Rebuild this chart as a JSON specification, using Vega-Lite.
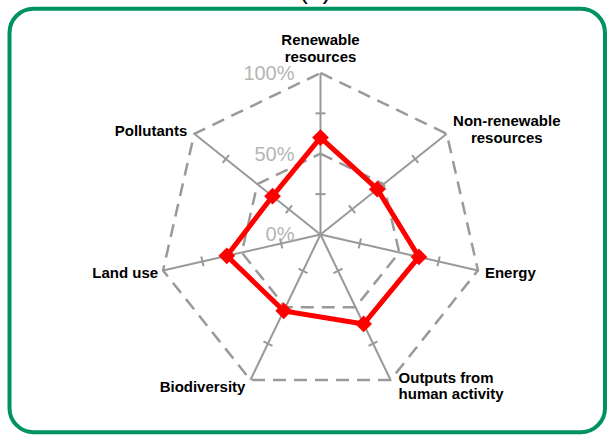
{
  "$schema": "https://vega.github.io/schema/vega-lite/v6.json",
  "width": 595.5,
  "height": 423.5,
  "padding": {"left": 9.5, "top": 8.7, "right": 2, "bottom": 3},
  "autosize": "none",
  "background": "white",
  "config": {
    "view": {"stroke": "#00935f", "strokeWidth": 4, "cornerRadius": 24},
    "text": {"font": "Liberation Sans"}
  },
  "title": {"text": "(b)", "font": "Liberation Sans", "fontSize": 26, "fontWeight": "normal", "color": "black", "baseline": "alphabetic", "offset": -16, "dx": 8, "anchor": "middle"},
  "datasets": {
    "axes": [
      {"idx": 0, "axis": "Renewable resources", "label": ["Renewable", "resources"], "value": 0.60},
      {"idx": 1, "axis": "Non-renewable resources", "label": ["Non-renewable", "resources"], "value": 0.45},
      {"idx": 2, "axis": "Energy", "label": ["Energy"], "value": 0.625},
      {"idx": 3, "axis": "Outputs from human activity", "label": ["Outputs from", "human activity"], "value": 0.615},
      {"idx": 4, "axis": "Biodiversity", "label": ["Biodiversity"], "value": 0.525},
      {"idx": 5, "axis": "Land use", "label": ["Land use"], "value": 0.595},
      {"idx": 6, "axis": "Pollutants", "label": ["Pollutants"], "value": 0.38}
    ],
    "levels": [
      {"pct": 0, "label": "0%"},
      {"pct": 0.5, "label": "50%"},
      {"pct": 1, "label": "100%"}
    ]
  },
  "data": {"name": "axes"},
  "layer": [
    {
      "transform": [
        {"calculate": "PI/2 - datum.idx*2*PI/7", "as": "ang"},
        {"calculate": "cos(datum.ang)", "as": "cx"},
        {"calculate": "sin(datum.ang)", "as": "cy"},
        {"calculate": "0", "as": "zero"}
      ],
      "mark": {"type": "rule", "color": "#999999", "strokeWidth": 2},
      "encoding": {
        "x": {"field": "zero", "type": "quantitative", "scale": {"domain": [-1.9257, 1.7616], "nice": false, "zero": false}, "axis": null},
        "y": {"field": "zero", "type": "quantitative", "scale": {"domain": [-1.2242, 1.3981], "nice": false, "zero": false}, "axis": null},
        "x2": {"field": "cx"},
        "y2": {"field": "cy"}
      }
    },
    {
      "transform": [
        {"calculate": "PI/2 - datum.idx*2*PI/7", "as": "ang"},
        {"calculate": "0.5*cos(datum.ang)", "as": "rx"},
        {"calculate": "0.5*sin(datum.ang)", "as": "ry"}
      ],
      "mark": {"type": "line", "color": "#9a9a9a", "strokeWidth": 2.5, "strokeDash": [13, 8], "interpolate": "linear-closed"},
      "encoding": {
        "x": {"field": "rx", "type": "quantitative", "scale": {"domain": [-1.9257, 1.7616], "nice": false, "zero": false}, "axis": null},
        "y": {"field": "ry", "type": "quantitative", "scale": {"domain": [-1.2242, 1.3981], "nice": false, "zero": false}, "axis": null},
        "order": {"field": "idx"}
      }
    },
    {
      "transform": [
        {"calculate": "PI/2 - datum.idx*2*PI/7", "as": "ang"},
        {"calculate": "cos(datum.ang)", "as": "rx"},
        {"calculate": "sin(datum.ang)", "as": "ry"}
      ],
      "mark": {"type": "line", "color": "#9a9a9a", "strokeWidth": 2.5, "strokeDash": [13, 8], "interpolate": "linear-closed"},
      "encoding": {
        "x": {"field": "rx", "type": "quantitative", "scale": {"domain": [-1.9257, 1.7616], "nice": false, "zero": false}, "axis": null},
        "y": {"field": "ry", "type": "quantitative", "scale": {"domain": [-1.2242, 1.3981], "nice": false, "zero": false}, "axis": null},
        "order": {"field": "idx"}
      }
    },
    {
      "transform": [
        {"calculate": "PI/2 - datum.idx*2*PI/7", "as": "ang"},
        {"calculate": "cos(datum.ang)", "as": "cx"},
        {"calculate": "sin(datum.ang)", "as": "cy"},
        {"calculate": "0.25", "as": "t25"},
        {"calculate": "0.75", "as": "t75"},
        {"fold": ["t25", "t75"], "as": ["lvl", "t"]},
        {"calculate": "datum.t*datum.cx + 0.031*datum.cy", "as": "x1"},
        {"calculate": "datum.t*datum.cy - 0.031*datum.cx", "as": "y1"},
        {"calculate": "datum.t*datum.cx - 0.031*datum.cy", "as": "x2"},
        {"calculate": "datum.t*datum.cy + 0.031*datum.cx", "as": "y2"}
      ],
      "mark": {"type": "rule", "color": "#999999", "strokeWidth": 2},
      "encoding": {
        "x": {"field": "x1", "type": "quantitative", "scale": {"domain": [-1.9257, 1.7616], "nice": false, "zero": false}, "axis": null},
        "y": {"field": "y1", "type": "quantitative", "scale": {"domain": [-1.2242, 1.3981], "nice": false, "zero": false}, "axis": null},
        "x2": {"field": "x2"},
        "y2": {"field": "y2"}
      }
    },
    {
      "data": {"name": "levels"},
      "mark": {"type": "text", "align": "right", "baseline": "middle", "fontSize": 20, "color": "#b5b5b5", "dx": -26, "dy": 1, "font": "Liberation Sans"},
      "encoding": {
        "x": {"datum": 0, "type": "quantitative", "scale": {"domain": [-1.9257, 1.7616], "nice": false, "zero": false}, "axis": null},
        "y": {"field": "pct", "type": "quantitative", "scale": {"domain": [-1.2242, 1.3981], "nice": false, "zero": false}, "axis": null},
        "text": {"field": "label"}
      }
    },
    {
      "transform": [
        {"calculate": "PI/2 - datum.idx*2*PI/7", "as": "ang"},
        {"calculate": "datum.value*cos(datum.ang)", "as": "vx"},
        {"calculate": "datum.value*sin(datum.ang)", "as": "vy"}
      ],
      "mark": {"type": "line", "color": "#ff0000", "strokeWidth": 5, "interpolate": "linear-closed"},
      "encoding": {
        "x": {"field": "vx", "type": "quantitative", "scale": {"domain": [-1.9257, 1.7616], "nice": false, "zero": false}, "axis": null},
        "y": {"field": "vy", "type": "quantitative", "scale": {"domain": [-1.2242, 1.3981], "nice": false, "zero": false}, "axis": null},
        "order": {"field": "idx"}
      }
    },
    {
      "transform": [
        {"calculate": "PI/2 - datum.idx*2*PI/7", "as": "ang"},
        {"calculate": "datum.value*cos(datum.ang)", "as": "vx"},
        {"calculate": "datum.value*sin(datum.ang)", "as": "vy"}
      ],
      "mark": {"type": "point", "shape": "diamond", "filled": true, "size": 280, "color": "#ff0000", "opacity": 1},
      "encoding": {
        "x": {"field": "vx", "type": "quantitative", "scale": {"domain": [-1.9257, 1.7616], "nice": false, "zero": false}, "axis": null},
        "y": {"field": "vy", "type": "quantitative", "scale": {"domain": [-1.2242, 1.3981], "nice": false, "zero": false}, "axis": null}
      }
    },
    {
      "transform": [
        {"filter": "datum.idx == 0"},
        {"calculate": "PI/2 - datum.idx*2*PI/7", "as": "ang"},
        {"calculate": "cos(datum.ang)", "as": "cx"},
        {"calculate": "sin(datum.ang)", "as": "cy"}
      ],
      "mark": {"type": "text", "align": "center", "baseline": "middle", "fontSize": 15, "fontWeight": "bold", "lineHeight": 17, "color": "#000000", "dx": 0, "dy": -32.5, "font": "Liberation Sans"},
      "encoding": {
        "x": {"field": "cx", "type": "quantitative", "scale": {"domain": [-1.9257, 1.7616], "nice": false, "zero": false}, "axis": null},
        "y": {"field": "cy", "type": "quantitative", "scale": {"domain": [-1.2242, 1.3981], "nice": false, "zero": false}, "axis": null},
        "text": {"field": "label"}
      }
    },
    {
      "transform": [
        {"filter": "datum.idx == 1"},
        {"calculate": "PI/2 - datum.idx*2*PI/7", "as": "ang"},
        {"calculate": "cos(datum.ang)", "as": "cx"},
        {"calculate": "sin(datum.ang)", "as": "cy"}
      ],
      "mark": {"type": "text", "align": "center", "baseline": "middle", "fontSize": 15, "fontWeight": "bold", "lineHeight": 17.5, "color": "#000000", "dx": 60, "dy": -13, "font": "Liberation Sans"},
      "encoding": {
        "x": {"field": "cx", "type": "quantitative", "scale": {"domain": [-1.9257, 1.7616], "nice": false, "zero": false}, "axis": null},
        "y": {"field": "cy", "type": "quantitative", "scale": {"domain": [-1.2242, 1.3981], "nice": false, "zero": false}, "axis": null},
        "text": {"field": "label"}
      }
    },
    {
      "transform": [
        {"filter": "datum.idx == 2"},
        {"calculate": "PI/2 - datum.idx*2*PI/7", "as": "ang"},
        {"calculate": "cos(datum.ang)", "as": "cx"},
        {"calculate": "sin(datum.ang)", "as": "cy"}
      ],
      "mark": {"type": "text", "align": "left", "baseline": "middle", "fontSize": 15, "fontWeight": "bold", "color": "#000000", "dx": 7, "dy": 3, "font": "Liberation Sans"},
      "encoding": {
        "x": {"field": "cx", "type": "quantitative", "scale": {"domain": [-1.9257, 1.7616], "nice": false, "zero": false}, "axis": null},
        "y": {"field": "cy", "type": "quantitative", "scale": {"domain": [-1.2242, 1.3981], "nice": false, "zero": false}, "axis": null},
        "text": {"field": "label"}
      }
    },
    {
      "transform": [
        {"filter": "datum.idx == 3"},
        {"calculate": "PI/2 - datum.idx*2*PI/7", "as": "ang"},
        {"calculate": "cos(datum.ang)", "as": "cx"},
        {"calculate": "sin(datum.ang)", "as": "cy"}
      ],
      "mark": {"type": "text", "align": "left", "baseline": "middle", "fontSize": 15, "fontWeight": "bold", "lineHeight": 16.5, "color": "#000000", "dx": 8, "dy": -2, "font": "Liberation Sans"},
      "encoding": {
        "x": {"field": "cx", "type": "quantitative", "scale": {"domain": [-1.9257, 1.7616], "nice": false, "zero": false}, "axis": null},
        "y": {"field": "cy", "type": "quantitative", "scale": {"domain": [-1.2242, 1.3981], "nice": false, "zero": false}, "axis": null},
        "text": {"field": "label"}
      }
    },
    {
      "transform": [
        {"filter": "datum.idx == 4"},
        {"calculate": "PI/2 - datum.idx*2*PI/7", "as": "ang"},
        {"calculate": "cos(datum.ang)", "as": "cx"},
        {"calculate": "sin(datum.ang)", "as": "cy"}
      ],
      "mark": {"type": "text", "align": "right", "baseline": "middle", "fontSize": 15, "fontWeight": "bold", "color": "#000000", "dx": -5, "dy": 7, "font": "Liberation Sans"},
      "encoding": {
        "x": {"field": "cx", "type": "quantitative", "scale": {"domain": [-1.9257, 1.7616], "nice": false, "zero": false}, "axis": null},
        "y": {"field": "cy", "type": "quantitative", "scale": {"domain": [-1.2242, 1.3981], "nice": false, "zero": false}, "axis": null},
        "text": {"field": "label"}
      }
    },
    {
      "transform": [
        {"filter": "datum.idx == 5"},
        {"calculate": "PI/2 - datum.idx*2*PI/7", "as": "ang"},
        {"calculate": "cos(datum.ang)", "as": "cx"},
        {"calculate": "sin(datum.ang)", "as": "cy"}
      ],
      "mark": {"type": "text", "align": "right", "baseline": "middle", "fontSize": 15, "fontWeight": "bold", "color": "#000000", "dx": -5, "dy": 3, "font": "Liberation Sans"},
      "encoding": {
        "x": {"field": "cx", "type": "quantitative", "scale": {"domain": [-1.9257, 1.7616], "nice": false, "zero": false}, "axis": null},
        "y": {"field": "cy", "type": "quantitative", "scale": {"domain": [-1.2242, 1.3981], "nice": false, "zero": false}, "axis": null},
        "text": {"field": "label"}
      }
    },
    {
      "transform": [
        {"filter": "datum.idx == 6"},
        {"calculate": "PI/2 - datum.idx*2*PI/7", "as": "ang"},
        {"calculate": "cos(datum.ang)", "as": "cx"},
        {"calculate": "sin(datum.ang)", "as": "cy"}
      ],
      "mark": {"type": "text", "align": "right", "baseline": "middle", "fontSize": 15, "fontWeight": "bold", "color": "#000000", "dx": -7, "dy": -3, "font": "Liberation Sans"},
      "encoding": {
        "x": {"field": "cx", "type": "quantitative", "scale": {"domain": [-1.9257, 1.7616], "nice": false, "zero": false}, "axis": null},
        "y": {"field": "cy", "type": "quantitative", "scale": {"domain": [-1.2242, 1.3981], "nice": false, "zero": false}, "axis": null},
        "text": {"field": "label"}
      }
    }
  ]
}
